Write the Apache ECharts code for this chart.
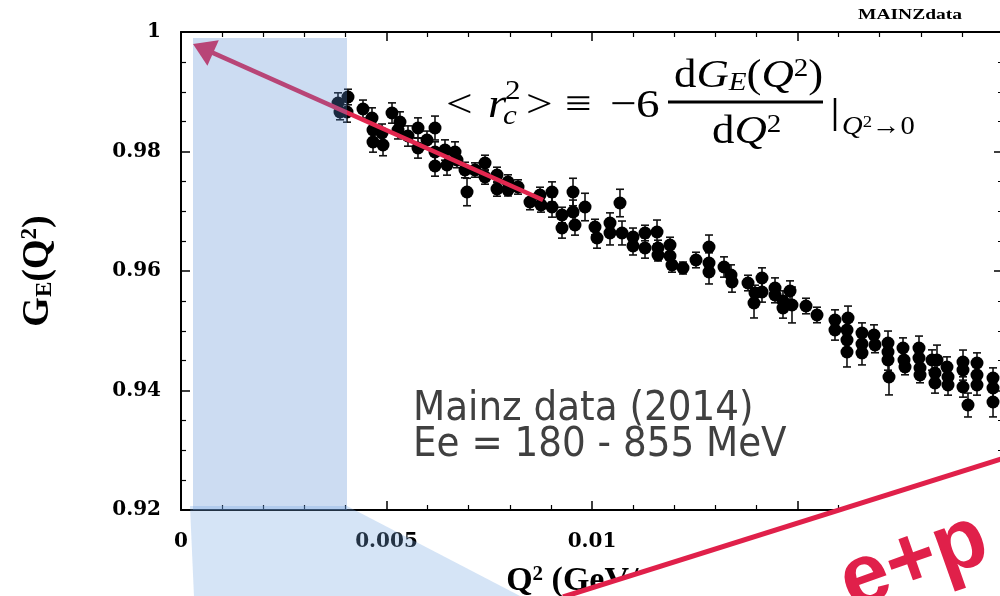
<!DOCTYPE html>
<html>
<head>
<meta charset="utf-8">
<script src="https://cdn.jsdelivr.net/npm/echarts@6/dist/echarts.min.js"></script>
<style>
html,body{margin:0;padding:0;background:#fff;}
#main{width:1000px;height:596px;}
</style>
</head>
<body>
<div id="main"></div>
<script>
// ---- data (Q^2 in GeV^2/c^2, G_E, error) ----
var q2 = [0.003820,0.003869,0.004039,0.004063,0.004428,0.004647,0.004672,0.004672,0.004891,0.004915,
0.005134,0.005280,0.005328,0.005523,0.005766,0.005766,0.005985,0.006180,0.006180,0.006180,
0.006423,0.006472,0.006667,0.006715,0.006910,0.006959,0.007153,0.007397,0.007397,0.007689,
0.007689,0.007956,0.007956,0.008200,0.008491,0.008735,0.008759,0.009027,0.009027,0.009270,
0.009270,0.009538,0.009538,0.009586,0.009830,0.010073,0.010122,0.010438,0.010438,0.010681,
0.010730,0.010998,0.010998,0.011290,0.011290,0.011582,0.011606,0.011606,0.011898,0.011898,
0.011946,0.012214,0.012530,0.012847,0.012847,0.012847,0.013212,0.013382,0.013406,0.013796,
0.013942,0.013966,0.014136,0.014136,0.014453,0.014453,0.014647,0.014647,0.014818,0.014866,
0.015207,0.015474,0.015912,0.015912,0.016229,0.016204,0.016204,0.016204,0.016569,0.016569,
0.016569,0.016861,0.016886,0.017202,0.017202,0.017202,0.017226,0.017567,0.017591,0.017616,
0.017956,0.017956,0.017981,0.017981,0.018273,0.018394,0.018345,0.018345,0.018637,0.018662,
0.018662,0.019027,0.019027,0.019027,0.019148,0.019367,0.019367,0.019367,0.019757,0.019757,
0.019757];
var ge = [0.98812,0.98661,0.98661,0.98912,0.98711,0.98561,0.98360,0.98159,0.98310,0.98109,
0.98644,0.98360,0.98494,0.98259,0.98393,0.98059,0.98192,0.98393,0.97992,0.97757,
0.98025,0.97774,0.97992,0.97858,0.97690,0.97322,0.97690,0.97808,0.97573,0.97607,
0.97372,0.97490,0.97356,0.97406,0.97155,0.97272,0.97105,0.97322,0.97071,0.96937,
0.96720,0.97322,0.96987,0.96770,0.97071,0.96736,0.96552,0.96803,0.96636,0.97138,
0.96636,0.96569,0.96418,0.96636,0.96385,0.96653,0.96385,0.96268,0.96435,0.96251,
0.96100,0.96050,0.96184,0.96402,0.96134,0.95983,0.96067,0.95933,0.95816,0.95799,
0.95464,0.95632,0.95883,0.95649,0.95715,0.95598,0.95498,0.95381,0.95665,0.95431,
0.95414,0.95264,0.95180,0.95013,0.95213,0.95013,0.94845,0.94644,0.94962,0.94778,
0.94628,0.94929,0.94762,0.94795,0.94644,0.94510,0.94226,0.94711,0.94510,0.94393,
0.94711,0.94544,0.94377,0.94259,0.94510,0.94510,0.94293,0.94126,0.94393,0.94226,
0.94092,0.94477,0.94343,0.94059,0.93757,0.94460,0.94259,0.94092,0.94209,0.94042,
0.93808];
var err = [0.0017,0.0013,0.0017,0.0013,0.0015,0.0017,0.0015,0.0017,0.0015,0.0018,
0.0017,0.0015,0.0017,0.0017,0.0017,0.0017,0.0015,0.0020,0.0017,0.0017,
0.0017,0.0017,0.0017,0.0013,0.0013,0.0023,0.0012,0.0013,0.0012,0.0013,
0.0012,0.0012,0.0010,0.0012,0.0013,0.0013,0.0012,0.0017,0.0017,0.0013,
0.0017,0.0023,0.0020,0.0017,0.0023,0.0013,0.0017,0.0017,0.0020,0.0023,
0.0020,0.0015,0.0015,0.0013,0.0017,0.0020,0.0013,0.0010,0.0013,0.0013,
0.0012,0.0010,0.0013,0.0020,0.0017,0.0020,0.0017,0.0017,0.0017,0.0013,
0.0025,0.0013,0.0017,0.0017,0.0017,0.0013,0.0017,0.0017,0.0017,0.0030,
0.0013,0.0013,0.0017,0.0017,0.0020,0.0017,0.0020,0.0025,0.0017,0.0017,
0.0020,0.0017,0.0013,0.0020,0.0017,0.0017,0.0030,0.0017,0.0017,0.0013,
0.0020,0.0017,0.0013,0.0013,0.0017,0.0025,0.0017,0.0017,0.0017,0.0017,
0.0017,0.0020,0.0017,0.0017,0.0020,0.0017,0.0020,0.0017,0.0017,0.0017,
0.0025];
// slope arrow (tangent near Q^2 -> 0) and low-Q^2 band
var arrowFrom = [0.008808, 0.97188];
var arrowTip = [0.000292, 0.99799];
var bandX = [0.000292, 0.004039];
var bandY = [0.92, 0.9990];
var xTicks = {min: 0, max: 0.02, step: 0.005};
var yTicks = {min: 0.92, max: 1, step: 0.02};

var chart = echarts.init(document.getElementById('main'), null, {renderer: 'canvas'});

var pts = q2.map(function (x, i) { return [x, ge[i]]; });
var bars = q2.map(function (x, i) { return [x, ge[i] - err[i], ge[i] + err[i]]; });

var serif = 'DejaVu Serif';
var tSerif = 'Liberation Serif';
function axisCommon() {
  return {
    axisLine: {show: true, onZero: false, lineStyle: {color: '#000', width: 2}},
    axisTick: {show: true, inside: true, length: 9, lineStyle: {color: '#000', width: 1.5}},
    splitLine: {show: false},
    minorSplitLine: {show: false}
  };
}
var xLab = {show: true, color: '#000', fontFamily: serif, fontWeight: 'bold', fontSize: 20, margin: 22,
  formatter: function (v) { if (v > 0.0199) return ''; return String(+v.toFixed(3)); }};
var yLab = {show: true, color: '#000', fontFamily: serif, fontWeight: 'bold', fontSize: 20, margin: 20,
  formatter: function (v) { return String(+v.toFixed(2)); }};

var option = {
  animation: false,
  backgroundColor: '#fff',
  grid: {left: 181, right: -3, top: 32, bottom: 86, containLabel: false, outerBoundsMode: 'none'},
  xAxis: [
    Object.assign(axisCommon(), {
      type: 'value', position: 'bottom', min: xTicks.min, max: xTicks.max, interval: xTicks.step,
      minorTick: {show: true, splitNumber: 5, length: 5, lineStyle: {color: '#000', width: 1.2}},
      axisLabel: xLab,
      name: 'Q{sup|2} (GeV/c{sup|2}){sup|2}', nameLocation: 'middle', nameGap: 54,
      nameTextStyle: {color: '#000', fontFamily: tSerif, fontWeight: 'bold', fontSize: 34,
        padding: [0, 0, 0, 8],
        rich: {sup: {fontFamily: tSerif, fontWeight: 'bold', fontSize: 21, verticalAlign: 'top', color: '#000'}}}
    }),
    Object.assign(axisCommon(), {
      type: 'value', position: 'top', min: xTicks.min, max: xTicks.max, interval: xTicks.step,
      minorTick: {show: true, splitNumber: 5, length: 5, lineStyle: {color: '#000', width: 1.2}},
      axisLabel: {show: false}
    })
  ],
  yAxis: [
    Object.assign(axisCommon(), {
      type: 'value', position: 'left', min: yTicks.min, max: yTicks.max, interval: yTicks.step,
      minorTick: {show: true, splitNumber: 4, length: 5, lineStyle: {color: '#000', width: 1.2}},
      axisLabel: yLab,
      name: 'G{sub|E}(Q{sup|2})', nameLocation: 'middle', nameGap: 124, nameRotate: 90,
      nameTextStyle: {color: '#000', fontFamily: tSerif, fontWeight: 'bold', fontSize: 38,
        rich: {
          sup: {fontFamily: tSerif, fontWeight: 'bold', fontSize: 23, verticalAlign: 'top', color: '#000'},
          sub: {fontFamily: tSerif, fontWeight: 'bold', fontSize: 23, verticalAlign: 'bottom', color: '#000'}
        }}
    }),
    Object.assign(axisCommon(), {
      type: 'value', position: 'right', min: yTicks.min, max: yTicks.max, interval: yTicks.step,
      minorTick: {show: true, splitNumber: 4, length: 5, lineStyle: {color: '#000', width: 1.2}},
      axisLabel: {show: false}
    })
  ],
  series: [
    {
      type: 'custom', name: 'errors', z: 2, silent: true,
      data: bars, encode: {x: 0, y: [1, 2]},
      renderItem: function (params, api) {
        var x = api.value(0);
        var p1 = api.coord([x, api.value(2)]);
        var p2 = api.coord([x, api.value(1)]);
        var w = 4;
        var st = {stroke: '#111', lineWidth: 1.6};
        return {type: 'group', children: [
          {type: 'line', shape: {x1: p1[0], y1: p1[1], x2: p2[0], y2: p2[1]}, style: st},
          {type: 'line', shape: {x1: p1[0] - w, y1: p1[1], x2: p1[0] + w, y2: p1[1]}, style: st},
          {type: 'line', shape: {x1: p2[0] - w, y1: p2[1], x2: p2[0] + w, y2: p2[1]}, style: st}
        ]};
      }
    },
    {
      type: 'scatter', name: 'Mainz', data: pts, symbol: 'circle', symbolSize: 13, z: 3,
      itemStyle: {color: '#000', opacity: 1}, silent: true
    },
    {
      type: 'custom', name: 'slope', z: 4, silent: true, clip: false,
      data: [[arrowFrom[0], arrowFrom[1], arrowTip[0], arrowTip[1]]],
      encode: {x: [0, 2], y: [1, 3]},
      renderItem: function (params, api) {
        var a = api.coord([api.value(0), api.value(1)]);
        var b = api.coord([api.value(2), api.value(3)]);
        var dx = b[0] - a[0], dy = b[1] - a[1];
        var L = Math.sqrt(dx * dx + dy * dy);
        var ux = dx / L, uy = dy / L, nx = -uy, ny = ux;
        var hl = 22, hw = 14;
        var bx = b[0] - ux * hl, by = b[1] - uy * hl;
        return {type: 'group', children: [
          {type: 'line', shape: {x1: a[0], y1: a[1], x2: bx + ux * 2, y2: by + uy * 2},
            style: {stroke: '#e2274f', lineWidth: 4.5}},
          {type: 'polygon', shape: {points: [[b[0], b[1]], [bx + nx * hw, by + ny * hw], [bx - nx * hw, by - ny * hw]]},
            style: {fill: '#e2274f'}}
        ]};
      }
    },
    {
      type: 'custom', name: 'band', z: 6, silent: true,
      data: [[bandX[0], bandY[0], bandX[1], bandY[1]]],
      encode: {x: [0, 2], y: [1, 3]},
      renderItem: function (params, api) {
        var p = api.coord([api.value(0), api.value(3)]);
        var q = api.coord([api.value(2), api.value(1)]);
        return {type: 'rect', shape: {x: p[0], y: p[1], width: q[0] - p[0], height: q[1] - p[1]},
          style: {fill: 'rgba(87,140,213,0.30)'}};
      }
    }
  ],
  graphic: [
    // projection of the band below the plot
    {type: 'polygon', z: 50, silent: true,
      shape: {points: [[190, 506], [347, 506], [522, 597], [194, 597]]},
      style: {fill: 'rgba(115,165,225,0.30)'}},
    // white cover and red stripe (bottom-right)
    {type: 'polygon', z: 60, silent: true,
      shape: {points: [[563, 597], [1001, 459], [1001, 597]]},
      style: {fill: '#fff'}},
    {type: 'line', z: 61, silent: true,
      shape: {x1: 563, y1: 597, x2: 1001, y2: 459},
      style: {stroke: '#e0204a', lineWidth: 5}},
    {type: 'text', z: 62, silent: true, x: 914, y: 562, rotation: 0.34,
      style: {text: 'e+p', fill: '#e0204a', fontFamily: 'Liberation Sans', fontWeight: 'bold', fontSize: 86,
        align: 'center', verticalAlign: 'middle'}},
    // MAINZdata label
    {type: 'text', z: 62, silent: true, x: 858, y: 15, scaleX: 1.3,
      style: {text: 'MAINZdata', fill: '#000', fontFamily: tSerif, fontWeight: 'bold', fontSize: 15,
        align: 'left', verticalAlign: 'middle'}},
    // annotation text
    {type: 'text', z: 62, silent: true, x: 413, y: 409, scaleX: 0.91,
      style: {text: 'Mainz data (2014)', fill: '#404040', fontFamily: 'DejaVu Sans', fontSize: 41,
        align: 'left', verticalAlign: 'middle'}},
    {type: 'text', z: 62, silent: true, x: 413, y: 445, scaleX: 0.91,
      style: {text: 'Ee = 180 - 855 MeV', fill: '#404040', fontFamily: 'DejaVu Sans', fontSize: 41,
        align: 'left', verticalAlign: 'middle'}},
    // formula  <r_c^2> = -6 dG_E(Q^2)/dQ^2 |_{Q^2->0}
    {type: 'text', z: 62, silent: true, x: 446, y: 106, scaleX: 1.15,
      style: {text: '<', fill: '#000', fontFamily: tSerif, fontSize: 41, align: 'left', verticalAlign: 'middle'}},
    {type: 'text', z: 62, silent: true, x: 488, y: 106, scaleX: 1.15,
      style: {text: 'r', fill: '#000', fontFamily: tSerif, fontStyle: 'italic', fontSize: 41, align: 'left', verticalAlign: 'middle'}},
    {type: 'text', z: 62, silent: true, x: 505, y: 92, scaleX: 1.15,
      style: {text: '2', fill: '#000', fontFamily: tSerif, fontSize: 27, align: 'left', verticalAlign: 'middle'}},
    {type: 'text', z: 62, silent: true, x: 503, y: 117, scaleX: 1.15,
      style: {text: 'c', fill: '#000', fontFamily: tSerif, fontStyle: 'italic', fontSize: 27, align: 'left', verticalAlign: 'middle'}},
    {type: 'text', z: 62, silent: true, x: 526, y: 106, scaleX: 1.15,
      style: {text: '>', fill: '#000', fontFamily: tSerif, fontSize: 41, align: 'left', verticalAlign: 'middle'}},
    {type: 'text', z: 62, silent: true, x: 565, y: 106, scaleX: 1.15,
      style: {text: '\u2261', fill: '#000', fontFamily: tSerif, fontSize: 41, align: 'left', verticalAlign: 'middle'}},
    {type: 'text', z: 62, silent: true, x: 610, y: 106, scaleX: 1.15,
      style: {text: '\u2212', fill: '#000', fontFamily: tSerif, fontSize: 41, align: 'left', verticalAlign: 'middle'}},
    {type: 'text', z: 62, silent: true, x: 636, y: 106, scaleX: 1.15,
      style: {text: '6', fill: '#000', fontFamily: tSerif, fontSize: 41, align: 'left', verticalAlign: 'middle'}},
    {type: 'text', z: 62, silent: true, x: 674, y: 76, scaleX: 1.12,
      style: {text: 'd{i|G}{sub|E}({i|Q}{sup|2})', fill: '#000', fontFamily: tSerif, fontSize: 40,
        align: 'left', verticalAlign: 'middle',
        rich: {
          i: {fontFamily: tSerif, fontStyle: 'italic', fontSize: 40},
          sup: {fontFamily: tSerif, fontSize: 26, verticalAlign: 'top'},
          sub: {fontFamily: tSerif, fontStyle: 'italic', fontSize: 26, verticalAlign: 'bottom'}
        }}},
    {type: 'line', z: 62, silent: true, shape: {x1: 668, y1: 102, x2: 823, y2: 102},
      style: {stroke: '#000', lineWidth: 3}},
    {type: 'text', z: 62, silent: true, x: 712, y: 132, scaleX: 1.12,
      style: {text: 'd{i|Q}{sup|2}', fill: '#000', fontFamily: tSerif, fontSize: 40,
        align: 'left', verticalAlign: 'middle',
        rich: {
          i: {fontFamily: tSerif, fontStyle: 'italic', fontSize: 40},
          sup: {fontFamily: tSerif, fontSize: 26, verticalAlign: 'top'}
        }}},
    {type: 'line', z: 62, silent: true, shape: {x1: 835, y1: 98, x2: 835, y2: 131},
      style: {stroke: '#000', lineWidth: 2.5}},
    {type: 'text', z: 62, silent: true, x: 842, y: 127, scaleX: 1.1,
      style: {text: '{i|Q}{sup|2}\u21920', fill: '#000', fontFamily: tSerif, fontSize: 26,
        align: 'left', verticalAlign: 'middle',
        rich: {
          i: {fontFamily: tSerif, fontStyle: 'italic', fontSize: 26},
          sup: {fontFamily: tSerif, fontSize: 17, verticalAlign: 'top'}
        }}}
  ]
};
chart.setOption(option);
</script>
</body>
</html>
